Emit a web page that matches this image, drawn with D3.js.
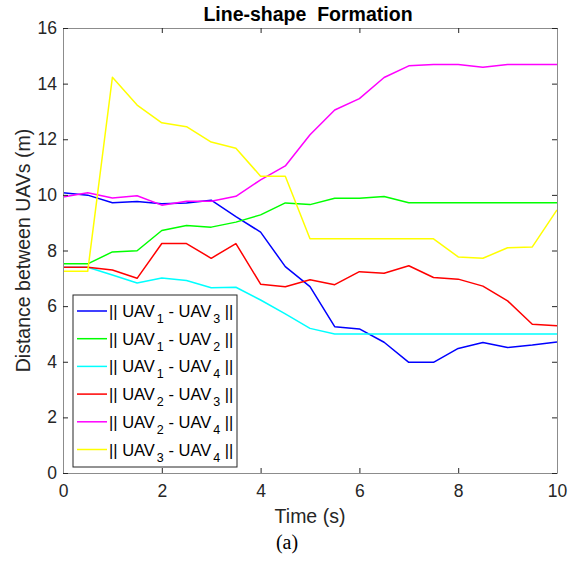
<!DOCTYPE html>
<html>
<head>
<meta charset="utf-8">
<script src="https://cdn.jsdelivr.net/npm/d3@7"></script>
<style>
  body { margin: 0; background: #fff; }
  text { font-family: "Liberation Sans", Arial, sans-serif; fill: #262626; }
</style>
</head>
<body>
<svg id="chart" width="577" height="562"></svg>
<script>
// time steps (s)
var times = [0,0.5,1,1.5,2,2.5,3,3.5,4,4.5,5,5.5,6,6.5,7,7.5,8,8.5,9,9.5,10];

// distances (m)
var uav13 = [10.08,9.99,9.72,9.76,9.68,9.71,9.81,9.22,8.66,7.42,6.70,5.26,5.18,4.70,3.98,3.98,4.48,4.69,4.51,4.60,4.71];
var uav12 = [7.52,7.52,7.95,7.99,8.72,8.90,8.84,9.02,9.28,9.71,9.65,9.88,9.88,9.94,9.72,9.72,9.72,9.72,9.72,9.72,9.72];
var uav14 = [7.40,7.40,7.12,6.83,7.01,6.92,6.66,6.68,6.22,5.72,5.20,5.00,5.00,5.00,5.00,5.00,5.00,5.00,5.00,5.00,5.00];
var uav23 = [7.40,7.40,7.30,7.00,8.25,8.25,7.72,8.25,6.79,6.70,6.95,6.77,7.24,7.18,7.45,7.03,6.97,6.72,6.19,5.35,5.29];
var uav24 = [9.92,10.08,9.89,9.97,9.63,9.77,9.77,9.95,10.54,11.04,12.16,13.05,13.46,14.22,14.64,14.69,14.69,14.59,14.69,14.69,14.69];
var uav34 = [7.25,7.25,14.23,13.23,12.59,12.45,11.90,11.68,10.67,10.67,8.42,8.42,8.42,8.42,8.42,8.42,7.77,7.72,8.10,8.13,9.46];

var xTicks = [0,2,4,6,8,10];
var yTicks = [0,2,4,6,8,10,12,14,16];

var series = [
  { a: "1", b: "3", vals: uav13, color: "#0000ff" },
  { a: "1", b: "2", vals: uav12, color: "#00ff00" },
  { a: "1", b: "4", vals: uav14, color: "#00ffff" },
  { a: "2", b: "3", vals: uav23, color: "#ff0000" },
  { a: "2", b: "4", vals: uav24, color: "#ff00ff" },
  { a: "3", b: "4", vals: uav34, color: "#ffff00" }
];

var svg = d3.select("#chart"),
    margin = { top: 28, right: 20, bottom: 89, left: 63 },
    width = 577 - margin.left - margin.right,
    height = 562 - margin.top - margin.bottom;

var x = d3.scaleLinear().domain([0, 10]).range([0, width]),
    y = d3.scaleLinear().domain([0, 16]).range([height, 0]);

var g = svg.append("g").attr("transform", "translate(" + margin.left + "," + margin.top + ")");

// lines
var line = d3.line()
    .x(function (d, i) { return x(times[i]); })
    .y(function (d) { return y(d); });

series.forEach(function (s) {
  g.append("path")
    .datum(s.vals)
    .attr("fill", "none")
    .attr("stroke", s.color)
    .attr("stroke-width", 1.5)
    .attr("stroke-linejoin", "round")
    .attr("d", line);
});

// axes (MATLAB box style, ticks inward)
function styleAxis(sel, labels) {
  sel.select(".domain").attr("stroke", "#8c8c8c").attr("stroke-width", 1);
  sel.selectAll(".tick line").attr("stroke", "#262626");
  sel.selectAll(".tick text").style("font-size", "17.5px").style("fill", "#262626");
  if (!labels) sel.selectAll(".tick text").remove();
}

g.append("g").attr("transform", "translate(0," + height + ")")
  .call(d3.axisBottom(x).tickValues(xTicks).tickSize(-5).tickSizeOuter(0).tickPadding(12))
  .call(styleAxis, true);
g.append("g")
  .call(d3.axisTop(x).tickValues(xTicks).tickSize(-5).tickSizeOuter(0))
  .call(styleAxis, false);
g.append("g")
  .call(d3.axisLeft(y).tickValues(yTicks).tickSize(-5).tickSizeOuter(0).tickPadding(6))
  .call(styleAxis, true);
g.append("g").attr("transform", "translate(" + width + ",0)")
  .call(d3.axisRight(y).tickValues(yTicks).tickSize(-5).tickSizeOuter(0))
  .call(styleAxis, false);

// legend
var leg = g.append("g").attr("transform", "translate(10," + y(6.4) + ")");
var rowH = 27.7;
leg.append("rect")
  .attr("x", 0).attr("y", 0)
  .attr("width", 164).attr("height", 172)
  .attr("fill", "#fff").attr("stroke", "#262626").attr("stroke-width", 1);

series.forEach(function (s, i) {
  var cy = 16 + i * rowH;
  leg.append("line")
    .attr("x1", 4).attr("x2", 34).attr("y1", cy).attr("y2", cy)
    .attr("stroke", s.color).attr("stroke-width", 1.5);
  var t = leg.append("text").attr("x", 36).attr("y", cy + 6).style("font-size", "16.5px").style("fill", "#000");
  t.append("tspan").text("|| UAV");
  t.append("tspan").attr("dy", 6).attr("dx", 2).style("font-size", "12.5px").text(s.a);
  t.append("tspan").attr("dy", -6).text(" - UAV");
  t.append("tspan").attr("dy", 6).attr("dx", 2).style("font-size", "12.5px").text(s.b);
  t.append("tspan").attr("dy", -6).text(" ||");
});

// title and axis labels
svg.append("text")
  .attr("x", 308).attr("y", 20.5)
  .attr("text-anchor", "middle")
  .style("font-size", "19.5px").style("font-weight", "bold").style("fill", "#000")
  .attr("xml:space", "preserve")
  .text("Line-shape  Formation");

svg.append("text")
  .attr("x", margin.left + width / 2).attr("y", 523)
  .attr("text-anchor", "middle")
  .style("font-size", "19.5px")
  .text("Time (s)");

svg.append("text")
  .attr("transform", "translate(30," + (margin.top + height / 2) + ") rotate(-90)")
  .attr("text-anchor", "middle")
  .style("font-size", "19.5px")
  .text("Distance between UAVs (m)");

svg.append("text")
  .attr("x", 287).attr("y", 549)
  .attr("text-anchor", "middle")
  .style("font-family", "'Liberation Serif', 'Times New Roman', serif")
  .style("font-size", "20px").style("fill", "#000")
  .text("(a)");
</script>
</body>
</html>
